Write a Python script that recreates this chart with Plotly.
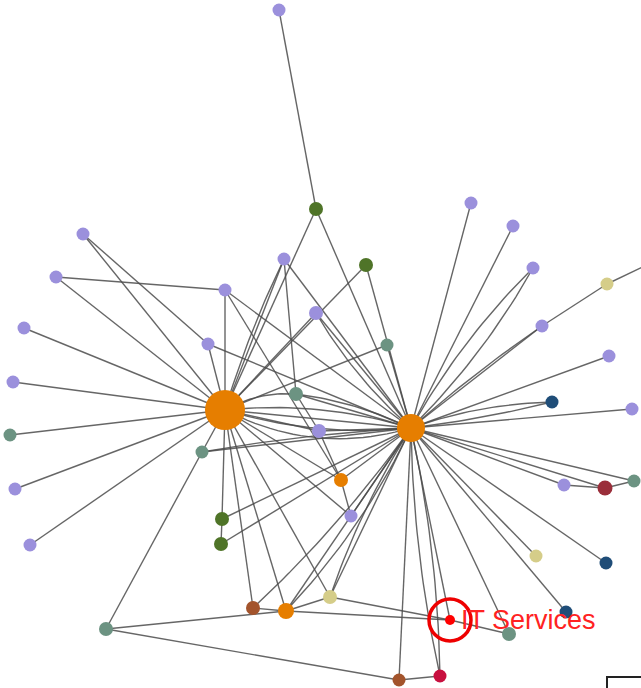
import plotly.graph_objects as go
import numpy as np

# node data (image pixel coordinates of the layout)
node_names = [f"n{i}" for i in range(47)]
node_x = [225, 411, 279, 316, 83, 56, 225, 284, 366, 316, 24, 208, 387, 13, 296, 10, 319, 202, 15, 341,
          351, 222, 221, 30, 253, 286, 330, 106, 450, 509, 399, 440, 471, 513, 533, 607, 542, 609, 552, 632,
          564, 605, 634, 536, 606, 566, 668]
node_y = [410, 428, 10, 209, 234, 277, 290, 259, 265, 313, 328, 344, 345, 382, 394, 435, 431, 452, 489, 480,
          516, 519, 544, 545, 608, 611, 597, 629, 620, 634, 680, 676, 203, 226, 268, 284, 326, 356, 402, 409,
          485, 488, 481, 556, 563, 612, 255]
node_group = ["orange", "orange", "purple", "green", "purple", "purple", "purple", "purple", "green", "purple",
              "purple", "purple", "teal", "purple", "teal", "teal", "purple", "teal", "purple", "orange",
              "purple", "green", "green", "purple", "brown", "orange", "khaki", "teal", "red", "teal",
              "brown", "crimson", "purple", "purple", "purple", "khaki", "purple", "purple", "navy", "purple",
              "purple", "darkred", "teal", "khaki", "navy", "navy", "purple"]
node_size = [40, 28, 13, 14, 13, 13, 13, 13, 14, 14, 13, 13, 13, 13, 14, 13, 14, 13, 13, 14,
             13, 14, 14, 13, 14, 16, 14, 14, 10, 14, 13, 13, 13, 13, 13, 13, 13, 13, 13, 13,
             13, 15, 13, 13, 13, 13, 13]
label_node = 28
label_text = "IT Services"

# edges: (source, target, curvature)
edges = [
    (2, 3, 0), (3, 0, 0), (3, 1, 0), (4, 0, 0), (4, 11, 0), (5, 6, 0), (5, 0, 0), (6, 0, 0), (6, 1, 0),
    (6, 19, 0), (7, 0, 0), (7, 0, 0.04), (7, 1, 0), (7, 14, 0), (8, 0, 0), (8, 1, 0), (9, 1, 0), (9, 1, 0.08),
    (10, 0, 0), (13, 0, 0), (15, 0, 0), (18, 0, 0), (23, 0, 0), (11, 0, 0), (11, 1, 0), (12, 1, 0), (12, 0, 0),
    (14, 0, 0.15), (14, 1, 0), (14, 1, -0.08), (14, 16, 0), (16, 0, 0), (16, 1, 0), (16, 19, 0), (19, 20, 0),
    (17, 0, 0), (17, 1, 0), (17, 27, 0), (19, 0, 0), (19, 1, 0), (20, 0, 0), (20, 1, 0), (21, 0, 0),
    (21, 22, 0), (21, 1, 0), (22, 1, 0), (24, 0, 0), (24, 1, 0.05), (24, 25, 0), (25, 0, 0), (25, 1, 0),
    (25, 1, 0.08), (25, 26, 0), (25, 27, 0), (25, 28, 0), (26, 0, 0), (26, 1, 0), (26, 1, -0.06), (26, 28, 0),
    (27, 30, 0), (28, 1, 0), (28, 29, 0), (29, 1, 0), (30, 1, 0), (30, 31, 0), (31, 1, 0.05), (31, 1, -0.05),
    (32, 1, 0), (33, 1, 0), (34, 1, 0.07), (34, 1, -0.07), (35, 36, 0), (36, 1, 0), (36, 1, 0.03),
    (35, 46, 0), (37, 1, 0), (38, 1, 0.08), (38, 1, -0.03), (39, 1, 0), (40, 1, 0), (40, 41, 0), (41, 1, 0),
    (41, 42, 0), (42, 1, 0), (43, 1, 0), (44, 1, 0), (45, 1, 0), (0, 1, 0), (0, 1, 0.1), (0, 1, -0.1),
    (0, 1, 0.2), (17, 1, -0.03), (9, 0, 0),
]

colors = {"orange": "#e67e00", "purple": "#9b90dc", "green": "#4f7428", "teal": "#6c9382",
          "brown": "#a3542c", "khaki": "#d5cd89", "red": "#ff0000", "crimson": "#c8103f",
          "navy": "#1f4d78", "darkred": "#9a2e3a"}

ex, ey = [], []
for s, t, c in edges:
    x0, y0, x1, y1 = node_x[s], node_y[s], node_x[t], node_y[t]
    if c == 0:
        ex += [x0, x1, None]
        ey += [y0, y1, None]
    else:
        mx, my = (x0 + x1) / 2, (y0 + y1) / 2
        dx, dy = x1 - x0, y1 - y0
        cx, cy = mx - dy * c, my + dx * c
        tt = np.linspace(0, 1, 25)
        bx = (1 - tt) ** 2 * x0 + 2 * (1 - tt) * tt * cx + tt ** 2 * x1
        by = (1 - tt) ** 2 * y0 + 2 * (1 - tt) * tt * cy + tt ** 2 * y1
        ex += list(bx) + [None]
        ey += list(by) + [None]

fig = go.Figure()
fig.add_trace(go.Scatter(x=ex, y=ey, mode="lines", line=dict(color="rgba(75,75,75,0.85)", width=1.4),
                         hoverinfo="skip", showlegend=False))
fig.add_trace(go.Scatter(x=node_x, y=node_y, mode="markers", text=node_names,
                         marker=dict(size=node_size, color=[colors[g] for g in node_group],
                                     opacity=1, line=dict(width=0)),
                         showlegend=False))
lx, ly = node_x[label_node], node_y[label_node]
fig.add_annotation(x=lx, y=ly, text=label_text, showarrow=False, xanchor="left", xshift=9,
                   font=dict(color="#ff2222", size=27, family="Liberation Sans"))
r = 21
fig.add_shape(type="circle", x0=lx - r, x1=lx + r, y0=ly - r, y1=ly + r, line=dict(color="#ee0000", width=3.5))
fig.add_shape(type="rect", x0=607, x1=700, y0=677, y1=720, line=dict(color="#222", width=2))

fig.update_xaxes(range=[0, 641], visible=False)
fig.update_yaxes(range=[688, 0], visible=False)
fig.update_layout(width=641, height=688, margin=dict(l=0, r=0, t=0, b=0),
                  plot_bgcolor="white", paper_bgcolor="white")
fig.write_html("out.html", config={"displayModeBar": False},
               post_script="document.body.style.margin='0';document.body.style.overflow='hidden';")
